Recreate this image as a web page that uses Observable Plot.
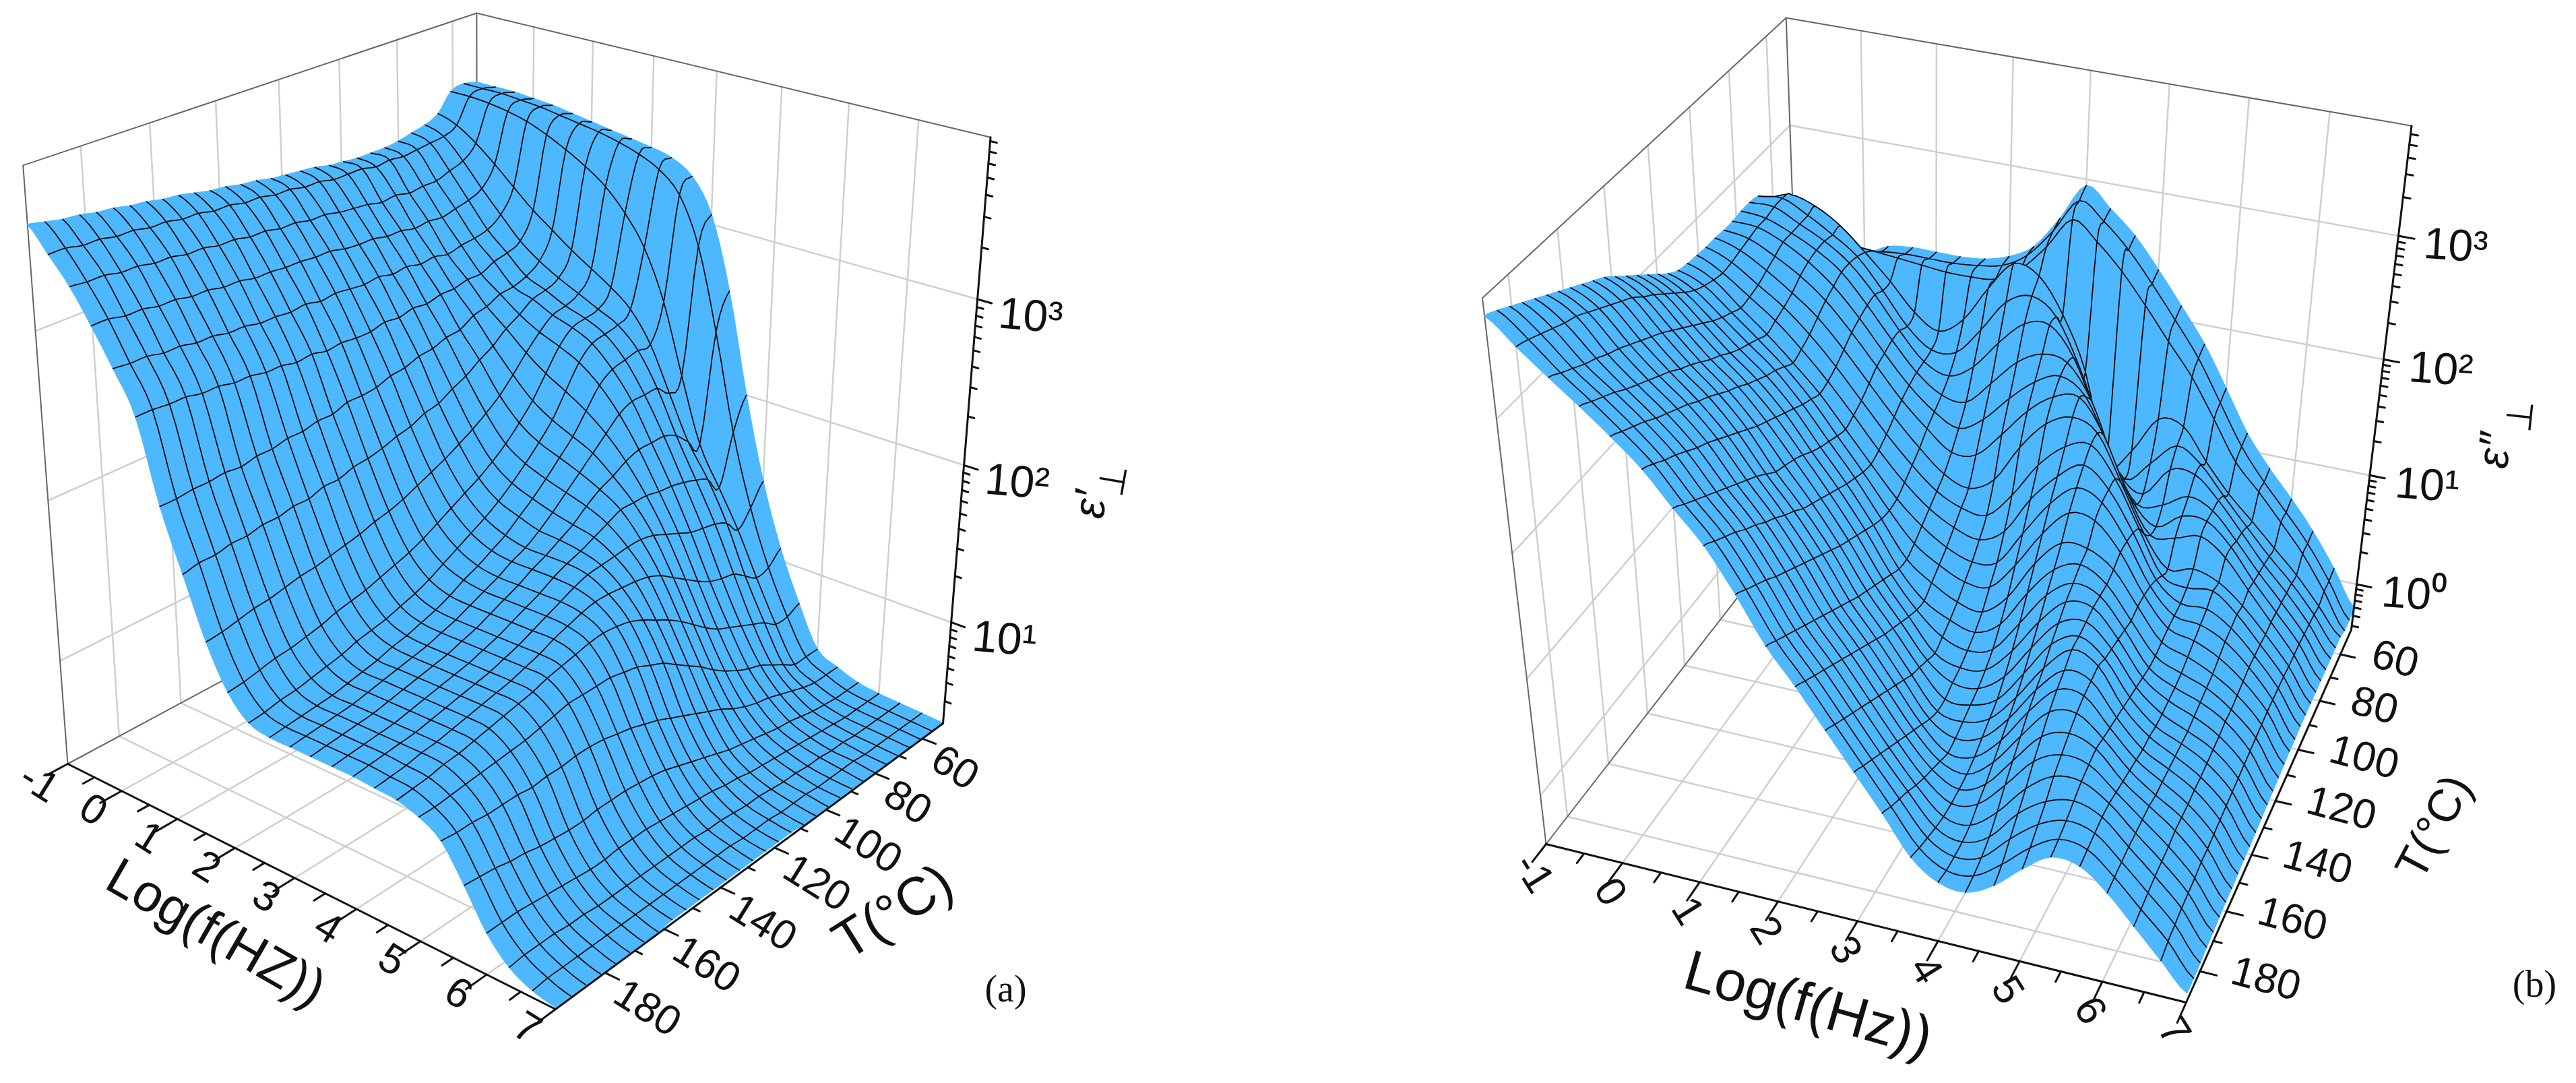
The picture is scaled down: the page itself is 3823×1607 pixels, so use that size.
<!DOCTYPE html>
<html><head><meta charset="utf-8">
<style>html,body{margin:0;padding:0;background:#fff}svg{display:block}</style>
<script src="https://cdn.jsdelivr.net/npm/d3@7"></script>
<script src="https://cdn.jsdelivr.net/npm/@observablehq/plot@0.6"></script>
</head><body><div id="chart"></div>
<script>
// log10(frequency / Hz) of the surface's constant-frequency lines
const logF = [-1,-.67,-.33,0,.33,.67,1,1.33,1.67,2,2.33,2.67,3,3.33,3.67,4,4.33,4.67,5,5.33,5.67,6,6.33,6.67,7];
// temperatures of the constant-temperature lines
const tempsA = [51,55.8,60.7,65.5,70.3,75.2,80,84.8,89.7,94.5,99.3,104.2,109,113.8,118.7,123.5,128.3,133.2,138,142.8,147.7,152.5,157.3,162.2,167,171.8,176.7,181.5,186.3,191.2,196];
const tempsB = [49,53.7,58.4,63.1,67.8,72.5,77.2,81.9,86.6,91.3,96,100.7,105.4,110.1,114.8,119.5,124.2,128.9,133.6,138.3,143,147.7,152.4,157.1,161.8,166.5,171.2,175.9,180.6,185.3,190];
// 100*log10(eps'), one row per temperature
const epsReal = [
[349,349,349,348,347,345,343,341,339,337,334,326,306,262,200,148,108,76,50,43,38,36,35,34,33],
[351,351,351,350,349,347,345,343,340,336,330,318,290,240,180,135,100,72,50,43,38,36,35,34,33],
[349,349,348,346,343,338,332,325,316,303,285,255,212,172,148,125,98,72,50,43,38,36,35,34,33],
[338,334,326,316,305,294,285,276,268,260,250,232,205,178,158,134,104,78,55,45,39,36,35,34,33],
[334,330,318,304,291,278,269,262,256,250,244,232,212,186,162,138,110,82,60,48,40,37,35,34,33],
[332,329,315,300,285,274,263,258,252,248,242,230,212,190,165,140,112,86,65,51,42,38,36,34,33],
[330,328,312,298,283,272,260,256,250,246,240,228,212,190,167,142,115,90,68,54,44,39,36,35,33],
[329,327,312,296,282,268,259,250,243,238,232,222,208,190,168,146,120,94,72,56,45,40,37,35,33],
[329,328,311,297,280,268,255,245,234,225,218,210,200,187,170,150,126,100,77,59,47,41,37,35,34],
[329,327,313,296,282,266,253,238,224,212,204,198,192,182,170,154,132,107,83,63,49,42,38,35,34],
[330,329,312,298,281,266,248,233,215,202,194,189,184,178,170,156,138,114,90,68,51,43,38,36,34],
[331,329,314,298,283,264,247,227,208,193,185,180,176,172,166,156,142,120,96,72,53,44,39,36,34],
[333,329,315,300,282,265,244,223,202,186,177,172,168,165,162,155,144,125,102,76,56,46,40,36,34],
[334,331,316,300,284,263,243,218,197,180,170,165,161,160,158,154,145,130,108,80,59,47,40,37,35],
[335,331,318,301,283,264,240,216,192,175,164,158,155,155,155,153,146,134,112,84,62,49,41,37,35],
[336,333,318,303,284,262,239,212,188,170,159,153,151,151,151,150,146,136,116,88,65,50,42,37,35],
[338,333,320,303,285,262,236,210,184,165,154,148,146,146,146,146,144,137,118,91,68,51,42,38,35],
[339,335,320,304,284,263,235,207,180,160,149,144,142,142,142,142,141,136,120,94,70,52,43,38,35],
[341,335,322,304,286,262,235,205,177,156,144,139,138,138,138,138,138,134,120,96,71,53,43,38,35],
[342,337,322,305,285,264,232,204,175,153,140,135,134,134,134,134,134,132,120,98,72,54,43,38,35],
[344,337,324,305,286,263,232,201,172,150,137,132,131,131,131,131,131,130,120,99,72,54,43,38,35],
[346,339,324,307,286,265,230,201,170,147,134,129,128,128,128,128,128,127,118,99,72,54,43,38,35],
[347,339,326,307,288,265,230,198,168,145,132,127,126,126,126,126,126,125,116,98,71,53,43,38,35],
[349,341,326,309,288,267,228,198,166,143,130,124,124,124,124,124,124,123,114,98,71,53,43,38,34],
[350,341,328,309,290,267,228,196,165,140,127,122,122,122,122,122,122,121,113,97,72,54,43,38,34],
[352,343,328,311,290,269,226,196,163,138,125,120,120,120,120,120,120,119,112,98,73,55,44,38,34],
[353,343,330,311,292,269,227,194,161,136,123,118,118,118,118,118,118,117,111,98,75,56,44,38,34],
[355,345,330,313,292,271,226,194,160,135,121,117,117,117,117,117,117,116,110,98,76,57,45,38,34],
[356,345,332,313,294,271,226,192,158,133,120,116,116,116,116,116,115,114,109,99,78,58,45,38,34],
[358,347,332,315,294,272,225,192,156,131,118,115,115,115,115,115,114,113,108,99,79,58,45,38,34],
[360,347,333,315,295,272,225,190,155,130,117,114,114,114,114,114,113,112,108,100,80,58,44,37,34]];
// 100*log10(eps''), one row per temperature
const epsImag = [
[238,215,200,205,215,218,218,218,220,226,238,265,295,280,262,238,212,184,150,115,88,65,40,10,-22],
[240,225,212,212,218,220,220,220,222,226,238,262,290,277,258,234,208,180,146,112,85,62,38,8,-24],
[250,240,232,228,226,224,222,220,220,222,234,256,282,268,248,224,198,172,140,107,85,62,38,8,-24],
[262,268,262,250,232,212,190,178,192,222,246,240,212,168,92,108,140,138,112,88,68,48,28,4,-20],
[270,272,262,250,236,212,186,170,172,195,222,231,218,180,130,92,110,130,118,95,72,50,30,6,-20],
[272,272,262,252,238,216,190,168,160,172,196,216,219,196,150,106,92,118,118,100,76,52,31,7,-20],
[272,270,262,252,238,215,190,167,152,150,170,192,203,200,172,125,92,96,108,100,78,54,32,8,-20],
[271,270,262,250,234,212,187,164,146,136,148,170,188,197,184,145,105,86,100,100,82,56,33,9,-20],
[271,268,258,246,230,208,184,160,140,124,126,148,172,188,192,165,122,88,90,96,82,58,34,9,-20],
[272,266,254,240,224,202,178,154,132,114,106,118,150,174,184,175,138,98,72,77,70,54,33,9,-20],
[272,264,250,236,218,196,172,148,126,108,98,96,118,148,168,174,150,112,76,70,72,56,34,10,-20],
[273,263,248,233,214,192,168,143,120,102,90,84,96,128,152,166,150,118,82,66,66,54,34,10,-20],
[274,265,247,230,211,190,165,140,115,96,82,74,78,108,138,156,148,120,86,65,62,52,34,10,-21],
[276,268,251,234,216,194,168,142,114,90,76,66,66,90,122,144,142,120,88,64,58,48,32,10,-21],
[281,272,255,238,221,198,172,146,116,86,70,58,54,72,106,128,128,115,88,62,54,44,30,9,-22],
[288,278,260,242,225,203,176,150,120,87,64,52,46,58,90,115,124,112,86,60,50,42,28,8,-23],
[295,285,266,247,230,208,181,155,125,92,66,47,40,46,74,103,118,112,88,60,48,40,28,7,-24],
[302,292,272,253,235,213,187,160,130,97,70,43,35,38,60,90,112,112,90,62,47,38,26,6,-25],
[309,299,278,258,241,218,192,165,135,102,75,47,32,32,48,78,104,110,92,64,46,36,25,5,-26],
[316,305,284,264,246,223,196,170,140,107,80,51,28,28,38,66,96,108,94,66,46,36,24,4,-27],
[323,312,290,270,252,229,200,175,146,112,85,55,28,24,32,56,86,107,98,68,48,36,23,3,-28],
[328,317,295,275,258,235,207,182,152,118,91,61,32,20,26,48,78,100,96,70,48,36,23,2,-28],
[333,322,300,281,263,241,214,188,158,124,97,67,38,18,20,40,70,94,94,72,50,36,22,1,-29],
[338,327,305,286,269,247,220,195,164,130,103,73,44,22,16,32,60,86,90,74,52,36,22,0,-30],
[343,332,310,291,274,253,226,201,170,136,109,79,50,26,14,24,50,76,84,76,54,38,22,0,-30],
[348,337,314,296,279,258,232,208,176,142,115,85,56,30,13,18,40,66,77,74,56,38,20,-2,-31],
[353,340,319,301,284,264,238,214,182,148,121,91,62,35,13,11,28,54,70,71,58,38,19,-3,-32],
[358,344,323,307,290,270,244,221,189,154,127,97,68,41,15,8,18,44,60,66,58,38,18,-4,-33],
[363,348,328,312,295,275,250,227,195,160,133,103,74,46,18,7,12,34,52,61,56,37,16,-6,-34],
[368,352,333,317,300,281,256,233,201,166,139,109,80,51,21,7,8,24,44,57,54,36,14,-8,-35],
[372,355,338,322,305,286,262,239,207,172,145,115,86,57,25,9,6,18,38,54,52,35,12,-12,-35]];
const fTicks = [-1,0,1,2,3,4,5,6,7];
const tTicks = [60,80,100,120,140,160,180];
const zDecadesA = [1,2,3];
const zDecadesB = [0,1,2,3];
const superscripts = ["\u2070","\u00B9","\u00B2","\u00B3"];

const W = 3823, H = 1607;
const BLUE = "#4db8ff", INK = "#000";

// 3-D box -> page perspective, fixed by the box corners of each panel
function camera(cfg) {
  const [[x0,y0],[x1,y1],[x2,y2],[x3,y3]] = cfg.floor;
  const dx1=x1-x2, dx2=x3-x2, dx3=x0-x1+x2-x3, dy1=y1-y2, dy2=y3-y2, dy3=y0-y1+y2-y3;
  const det=dx1*dy2-dx2*dy1;
  const g=(dx3*dy2-dx2*dy3)/det, h=(dx1*dy3-dx3*dy1)/det;
  const a=x1-x0+g*x1, b=x3-x0+h*x3, d=y1-y0+g*y1, e=y3-y0+h*y3;
  const d3=(cfg.topY-y0)/(cfg.vanish[1]-cfg.topY);
  return (f,T,z) => {
    const u=(f+1)/8, v=(T-cfg.tMin)/(cfg.tMax-cfg.tMin), w=(z-cfg.zMin)/(cfg.zMax-cfg.zMin);
    const den=g*u+h*v+1+d3*w;
    return [(a*u+b*v+x0+cfg.vanish[0]*d3*w)/den,(d*u+e*v+y0+cfg.vanish[1]*d3*w)/den];
  };
}

// spline through four neighbouring readings, used to draw the mesh lines as smooth curves
const spline=(a,b,c,d,t)=>.5*(2*b+(c-a)*t+(2*a-5*b+4*c-d)*t*t+(3*b-a-3*c+d)*t*t*t);
const STEPS=4;

function panel(cfg) {
  const P = camera(cfg), {zMin:z0,zMax:z1,tMin:t0,tMax:t1} = cfg;
  let id = 0; const grid=[], box=[], axis=[], surf=[];
  const seg = (arr,pts) => {id++; for(const p of pts){const [x,y]=P(...p); arr.push({id,x,y});}};
  for (const f of fTicks.slice(1,-1)) {
    seg(grid,[[f,t0,z0],[f,t1,z0]]);
    seg(grid,[[f,t0,z0],[f,t0,z1]]);
  }
  for (const T of tTicks) {
    seg(grid,[[-1,T,z0],[7,T,z0]]);
    seg(grid,[[-1,T,z0],[-1,T,z1]]);
  }
  for (const d of cfg.decades) seg(grid,[[-1,t1,d],[-1,t0,d],[7,t0,d]]);
  seg(box,[[-1,t1,z0],[-1,t1,z1],[-1,t0,z1],[7,t0,z1]]);
  seg(box,[[-1,t0,z0],[-1,t0,z1]]);
  seg(box,[[-1,t1,z0],[-1,t0,z0]]);
  seg(axis,[[-1,t1,z0],[7,t1,z0],[7,t0,z0],[7,t0,z1]]);
  const du=(t1-t0), fLabels=[], tLabels=[], zLabels=[];
  for (let f=-1;f<=7;f+=.5){ const major=Number.isInteger(f);
    seg(axis,[[f,t1,z0],[f,t1+du*(major?.045:.024),z0]]);
    if(major){const [x,y]=P(f,t1,z0); fLabels.push({x,y,t:String(f)});}
  }
  for (let T=60;T<=180;T+=10){ const major=T%20===0;
    seg(axis,[[7,T,z0],[7+(major?.2:.1),T,z0]]);
    if(major){const [x,y]=P(7,T,z0); tLabels.push({x,y,t:String(T)});}
  }
  for (let d=Math.floor(z0);d<=Math.ceil(z1);d++) for(let m=1;m<=9;m++){
    const z=d+Math.log10(m); if(z<z0||z>z1) continue;
    seg(axis,[[7,t0,z],[7+(m===1?.2:.09),t0,z]]);
    if(m===1&&cfg.decades.includes(d)){const [x,y]=P(7,t0,z); zLabels.push({x,y,t:"10"+superscripts[d]});}
  }
  const nT=cfg.temps.length, nF=logF.length, tab=cfg.table, temps=cfg.temps;
  const cj=j=>Math.max(0,Math.min(nT-1,j)), ci=i=>Math.max(0,Math.min(nF-1,i));
  // samples along a constant-temperature line between columns i and i+1
  const alongF=(j,i)=>d3.range(STEPS+1).map(s=>{const t=s/STEPS;
    const z=spline(tab[j][ci(i-1)],tab[j][i],tab[j][ci(i+1)],tab[j][ci(i+2)],t)/100;
    return P(logF[i]+(logF[ci(i+1)]-logF[i])*t,temps[j],z);});
  // samples along a constant-frequency line between rows j and j+1
  const alongT=(j,i)=>d3.range(STEPS+1).map(s=>{const t=s/STEPS;
    const z=spline(tab[cj(j-1)][i],tab[j][i],tab[cj(j+1)][i],tab[cj(j+2)][i],t)/100;
    return P(logF[i],temps[j]+(temps[cj(j+1)]-temps[j])*t,z);});
  // painter's order: far cells first, each followed by its far edges
  for(let j=0;j<nT-1;j++) for(let i=0;i<nF-1;i++){
    const top=alongF(j,i), right=alongT(j,i+1), bottom=alongF(j+1,i).reverse(), left=alongT(j,i).reverse();
    const c=++id;
    for(const [x,y] of [...top,...right,...bottom,...left]) surf.push({id:c,x,y,fill:BLUE,stroke:BLUE});
    const edge=[...(i>0?left:[]),...(j>0?top:[])];
    if(edge.length){const k=++id; for(const [x,y] of edge) surf.push({id:k,x,y,fill:"none",stroke:INK});}
  }
  const sans="Liberation Sans, Arial, sans-serif";
  return [
    Plot.line(grid,{x:"x",y:"y",z:"id",stroke:"#cfcfcf",strokeWidth:2.5}),
    Plot.line(box,{x:"x",y:"y",z:"id",stroke:"#666",strokeWidth:2}),
    Plot.line(surf,{x:"x",y:"y",z:"id",fill:"fill",stroke:"stroke",strokeWidth:1.7}),
    Plot.line(axis,{x:"x",y:"y",z:"id",stroke:"#111",strokeWidth:3}),
    Plot.text(fLabels,{x:"x",y:"y",text:"t",fontFamily:sans,fontSize:cfg.tickSize,rotate:cfg.fLab.rot,dx:cfg.fLab.dx,dy:cfg.fLab.dy,fill:"#111"}),
    Plot.text(tLabels,{x:"x",y:"y",text:"t",fontFamily:sans,fontSize:cfg.tickSize,rotate:cfg.tLab.rot,dx:cfg.tLab.dx,dy:cfg.tLab.dy,textAnchor:"start",fill:"#111"}),
    Plot.text(zLabels,{x:"x",y:"y",text:"t",fontFamily:sans,fontSize:cfg.tickSize+4,rotate:cfg.zLab.rot,dx:cfg.zLab.dx,dy:cfg.zLab.dy,fill:"#111"}),
    ...cfg.titles.map(t=>Plot.text([t.s],{x:t.x,y:t.y,text:d=>d,fontFamily:t.serif?"Liberation Serif, serif":sans,fontStyle:t.it?"italic":"normal",fontSize:t.size,rotate:t.rot,fill:"#111"}))
  ];
}

const panelA = {
  floor:[[708,806],[1399,1073],[824,1497],[100,1133]], topY:19, vanish:[720,9440],
  tMin:51,tMax:196,zMin:.327,zMax:3.924,decades:zDecadesA,temps:tempsA,table:epsReal,tickSize:62,
  fLab:{rot:32,dx:-42,dy:28}, tLab:{rot:32,dx:19,dy:25}, zLab:{rot:5,dx:79,dy:25},
  titles:[
    {s:"Log(f(HZ))",x:320,y:1384,size:78,rot:30},
    {s:"T(\u00B0C)",x:1325,y:1353,size:80,rot:-32},
    {s:"\u03B5\u2032",x:1618,y:748,size:66,rot:-85,it:true},
    {s:"\u22A5",x:1652,y:712,size:54,rot:-80},
    {s:"(a)",x:1492,y:1468,size:56,rot:0,serif:true}
  ]
};
const panelB = {
  floor:[[2676,760],[3489,934],[3244,1487],[2294,1252]], topY:26, vanish:[2865,6148],
  tMin:49,tMax:190,zMin:-.436,zMax:3.84,decades:zDecadesB,temps:tempsB,table:epsImag,tickSize:62,
  fLab:{rot:58,dx:-18,dy:43}, tLab:{rot:15,dx:48,dy:-2}, zLab:{rot:4,dx:85,dy:15},
  titles:[
    {s:"Log(f(Hz))",x:2683,y:1490,size:84,rot:16},
    {s:"T(\u00B0C)",x:3612,y:1227,size:68,rot:-62},
    {s:"\u03B5\u2033",x:3702,y:668,size:66,rot:-84,it:true},
    {s:"\u22A5",x:3740,y:617,size:54,rot:-84},
    {s:"(b)",x:3761,y:1461,size:56,rot:0,serif:true}
  ]
};

const chart = Plot.plot({
  width:W,height:H,margin:0,
  x:{domain:[0,W],range:[0,W],axis:null},
  y:{domain:[0,H],range:[0,H],axis:null},
  color:{type:"identity"},
  style:{background:"#fff"},
  marks:[...panel(panelA),...panel(panelB)]
});
document.getElementById("chart").append(chart);
</script></body></html>
